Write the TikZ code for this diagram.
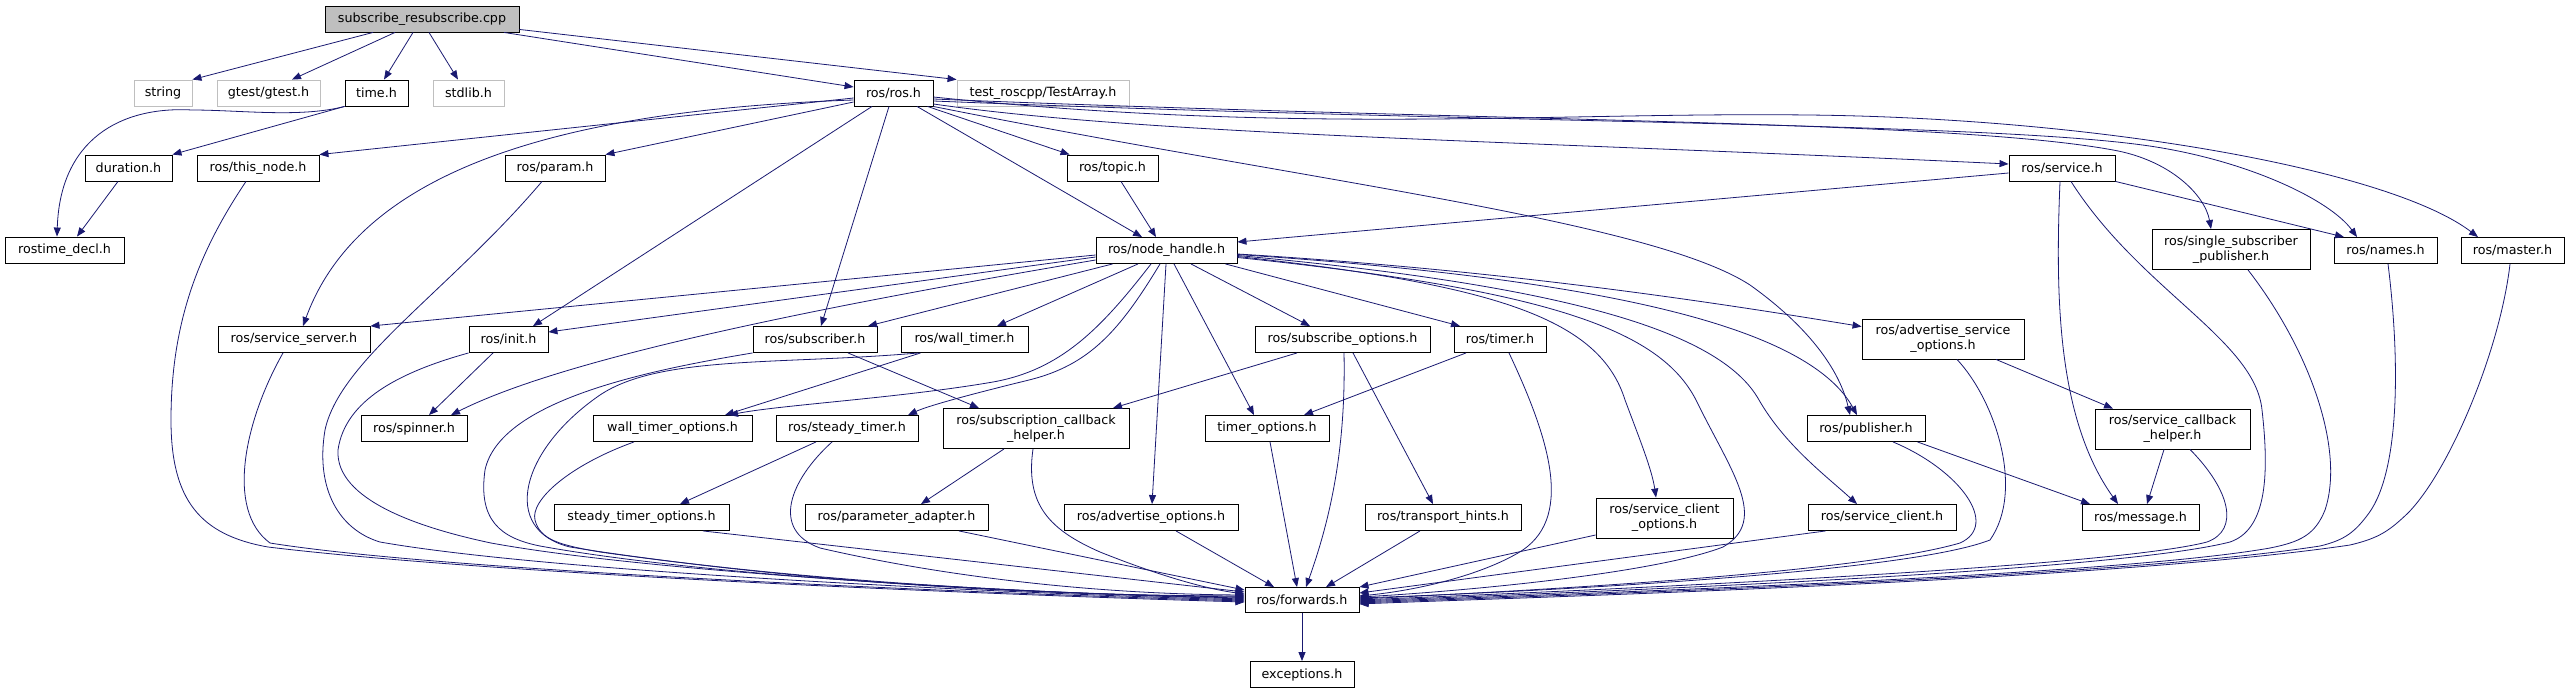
\documentclass[tikz,border=0pt]{standalone}
\usepackage{fontspec}
\setmainfont{DejaVu Sans}
\usetikzlibrary{arrows.meta}
\definecolor{edgeblue}{HTML}{191970}
\definecolor{extgray}{HTML}{BFBFBF}
\begin{document}
\begin{tikzpicture}
[x=1pt,y=-1pt,
 filenode/.style={shape=rectangle,draw=black,fill=white,line width=0.9pt,inner sep=0pt,
   minimum height=26pt,align=center,font=\fontsize{12.7}{15}\selectfont},
 extnode/.style={filenode,draw=extgray},
 mainnode/.style={filenode,fill=extgray},
 twoline/.style={minimum height=40pt},
 dep/.style={draw=edgeblue,line width=0.8pt,-{Triangle[length=9pt,width=7pt]}}]
\useasboundingbox (0,0) rectangle (2569,693);
% files, row by row
\node (main) at (422,19) [mainnode,minimum width=194pt] {subscribe\_resubscribe.cpp};
\node (string) at (163,93) [extnode,minimum width=58pt] {string};
\node (gtest) at (268.5,93) [extnode,minimum width=103pt] {gtest/gtest.h};
\node (timeh) at (376.5,93) [filenode,minimum width=63pt] {time.h};
\node (stdlib) at (468.5,93) [extnode,minimum width=71pt] {stdlib.h};
\node (ros) at (893.5,93) [filenode,minimum width=79pt] {ros/ros.h};
\node (testarray) at (1043,93) [extnode,minimum width=172pt] {test\_roscpp/TestArray.h};
\node (duration) at (128.5,168) [filenode,minimum width=87pt] {duration.h};
\node (thisnode) at (258,168) [filenode,minimum width=122pt] {ros/this\_node.h};
\node (param) at (555,168) [filenode,minimum width=100pt] {ros/param.h};
\node (topic) at (1112.5,168) [filenode,minimum width=91pt] {ros/topic.h};
\node (service) at (2062,168) [filenode,minimum width=106pt] {ros/service.h};
\node (rostime) at (64.5,250) [filenode,minimum width=119pt] {rostime\_decl.h};
\node (nodehandle) at (1166.5,250.5) [filenode,minimum width=141pt] {ros/node\_handle.h};
\node (singlesub) at (2231,249.5) [filenode,twoline,minimum width=158pt] {ros/single\_subscriber\\\_publisher.h};
\node (names) at (2385.5,250.5) [filenode,minimum width=103pt] {ros/names.h};
\node (master) at (2512.5,250.5) [filenode,minimum width=103pt] {ros/master.h};
\node (srvserver) at (294,339.5) [filenode,minimum width=152pt] {ros/service\_server.h};
\node (init) at (508.5,339.5) [filenode,minimum width=79pt] {ros/init.h};
\node (subscriber) at (815,339.5) [filenode,minimum width=124pt] {ros/subscriber.h};
\node (walltimer) at (964.5,339.5) [filenode,minimum width=127pt] {ros/wall\_timer.h};
\node (subopts) at (1342.5,339.5) [filenode,minimum width=175pt] {ros/subscribe\_options.h};
\node (timer) at (1500,339.5) [filenode,minimum width=92pt] {ros/timer.h};
\node (advsrvopts) at (1943,339) [filenode,twoline,minimum width=162pt] {ros/advertise\_service\\\_options.h};
\node (spinner) at (414,428.5) [filenode,minimum width=106pt] {ros/spinner.h};
\node (walltimeropts) at (672.5,428.5) [filenode,minimum width=159pt] {wall\_timer\_options.h};
\node (steadytimer) at (847,428.5) [filenode,minimum width=142pt] {ros/steady\_timer.h};
\node (subcbhelper) at (1036,428.5) [filenode,twoline,minimum width=186pt] {ros/subscription\_callback\\\_helper.h};
\node (timeropts) at (1267,428.5) [filenode,minimum width=124pt] {timer\_options.h};
\node (publisher) at (1866,428.5) [filenode,minimum width=118pt] {ros/publisher.h};
\node (srvcbhelper) at (2172.5,429) [filenode,twoline,minimum width=155pt] {ros/service\_callback\\\_helper.h};
\node (steadytimeropts) at (641.5,517.5) [filenode,minimum width=175pt] {steady\_timer\_options.h};
\node (paramadapter) at (896.5,517.5) [filenode,minimum width=183pt] {ros/parameter\_adapter.h};
\node (advopts) at (1151,517.5) [filenode,minimum width=174pt] {ros/advertise\_options.h};
\node (transport) at (1443,517.5) [filenode,minimum width=156pt] {ros/transport\_hints.h};
\node (srvclientopts) at (1664.5,518) [filenode,twoline,minimum width=137pt] {ros/service\_client\\\_options.h};
\node (srvclient) at (1882,517.5) [filenode,minimum width=148pt] {ros/service\_client.h};
\node (message) at (2140.5,517.5) [filenode,minimum width=117pt] {ros/message.h};
\node (forwards) at (1302,600) [filenode,minimum height=25pt,minimum width=114pt] {ros/forwards.h};
\node (exceptions) at (1302,674.5) [filenode,minimum width=104pt] {exceptions.h};
% straight includes
\path
([xshift=-49pt]main.south) edge[dep] (string.north east)
([xshift=-27pt]main.south) edge[dep] ([xshift=23.5pt]gtest.north)
([xshift=-9pt]main.south) edge[dep] ([xshift=7.5pt]timeh.north)
([xshift=7pt]main.south) edge[dep] ([xshift=-10.5pt]stdlib.north)
([xshift=82pt]main.south) edge[dep] ([yshift=6pt]ros.west)
([yshift=3pt]main.south east) edge[dep] (testarray.north west)
(timeh.south west) edge[dep] (duration.north east)
([xshift=-10.5pt]duration.south) edge[dep] ([xshift=12.5pt]rostime.north)
([yshift=-5pt]ros.west) edge[dep] (thisnode.north east)
([yshift=-9pt]ros.west) edge[dep] (param.north east)
([xshift=-21.5pt]ros.south) edge[dep] ([xshift=24.5pt]init.north)
([xshift=-4.5pt]ros.south) edge[dep] ([xshift=6pt]subscriber.north)
([xshift=23.5pt]ros.south) edge[dep] ([xshift=-24.5pt]nodehandle.north)
([xshift=-6pt]ros.south east) edge[dep] ([xshift=3pt]topic.north west)
([xshift=8.5pt]topic.south) edge[dep] ([xshift=-10.5pt]nodehandle.north)
([yshift=-5pt]service.west) edge[dep] ([yshift=8.5pt]nodehandle.east)
(service.south east) edge[dep] ([xshift=-41.5pt]names.north)
([yshift=-4.5pt]nodehandle.west) edge[dep] (srvserver.north east)
([yshift=-6.5pt]nodehandle.west) edge[dep] ([yshift=7.5pt]init.east)
([xshift=17pt]nodehandle.south west) edge[dep] ([xshift=53pt]subscriber.north)
([xshift=-28.5pt]nodehandle.south) edge[dep] ([xshift=32.5pt]walltimer.north)
([xshift=-0.5pt]nodehandle.south) edge[dep] ([xshift=1pt]advopts.north)
([xshift=7.5pt]nodehandle.south) edge[dep] ([xshift=-13pt]timeropts.north)
([xshift=24.5pt]nodehandle.south) edge[dep] ([xshift=-32.5pt]subopts.north)
([xshift=-12pt]nodehandle.south east) edge[dep] ([xshift=-40pt]timer.north)
([xshift=-15.5pt]init.south) edge[dep] ([xshift=15pt]spinner.north)
([xshift=33pt]subscriber.south) edge[dep] ([xshift=-57pt]subcbhelper.north)
([xshift=20pt]walltimer.south west) edge[dep] ([xshift=52.5pt]walltimeropts.north)
([xshift=-45.5pt]subopts.south) edge[dep] ([xshift=77pt]subcbhelper.north)
([xshift=10.5pt]subopts.south) edge[dep] ([xshift=-10pt]transport.north)
([xshift=-34pt]timer.south) edge[dep] ([xshift=37pt]timeropts.north)
([xshift=53pt]advsrvopts.south) edge[dep] ([xshift=-59.5pt]srvcbhelper.north)
([xshift=-31pt]steadytimer.south) edge[dep] ([xshift=38.5pt]steadytimeropts.north)
([xshift=-32pt]subcbhelper.south) edge[dep] ([xshift=24.5pt]paramadapter.north)
([xshift=-8pt]publisher.south east) edge[dep] ([xshift=-50.5pt]message.north)
([xshift=-8.5pt]srvcbhelper.south) edge[dep] ([xshift=6.5pt]message.north)
([xshift=3pt]timeropts.south) edge[dep] ([xshift=-5pt]forwards.north)
([xshift=61.5pt]steadytimeropts.south) edge[dep] ([yshift=8pt]forwards.west)
([xshift=62.5pt]paramadapter.south) edge[dep] ([yshift=10pt]forwards.west)
([xshift=25pt]advopts.south) edge[dep] ([xshift=-28pt]forwards.north)
([xshift=-23pt]transport.south) edge[dep] ([xshift=24pt]forwards.north)
([yshift=-17pt]srvclientopts.west) edge[dep] (forwards.north east)
([xshift=18pt]srvclient.south west) edge[dep] ([yshift=7pt]forwards.east)
(forwards.south) edge[dep] (exceptions.north);
% curved includes from the top rows
\draw[dep] (timeh.south west) .. controls (300,118) and (240,110) .. (192,110)
  .. controls (120,106) and (60,140) .. ([xshift=-7.5pt]rostime.north);
\draw[dep] ([yshift=-7pt]ros.west) .. controls (560,110) and (360,170) .. ([xshift=9pt]srvserver.north);
\draw[dep] ([yshift=-11pt]ros.east) .. controls (1150,135) and (1500,140) .. ([yshift=4pt]service.west);
\draw[dep] ([yshift=-6pt]ros.east) .. controls (1500,122) and (1950,120) .. (2113,150)
  .. controls (2170,160) and (2205,195) .. ([xshift=-20pt]singlesub.north);
\draw[dep] ([yshift=-8pt]ros.east) .. controls (1500,124) and (2000,122) .. (2156,147)
  .. controls (2250,162) and (2330,200) .. ([xshift=-28.5pt]names.north);
\draw[dep] ([yshift=-4pt]ros.east) .. controls (1300,135) and (1550,112) .. (1808,115)
  .. controls (2100,118) and (2390,170) .. ([xshift=-34.5pt]master.north);
\draw[dep] (ros.south east) .. controls (1300,180) and (1650,220) .. (1750,285)
  .. controls (1820,335) and (1842,380) .. ([xshift=-16pt]publisher.north);
\draw[dep] ([xshift=-2pt]service.south) .. controls (2055,300) and (2058,420) .. ([xshift=-22.5pt]message.north);
% curved includes out of ros/node_handle.h
\draw[dep] ([yshift=-9.5pt]nodehandle.west) .. controls (800,310) and (560,360) .. ([xshift=37pt]spinner.north);
\draw[dep] ([xshift=-15.5pt]nodehandle.south) .. controls (1100,330) and (1060,370) .. (993,382)
  .. controls (900,398) and (780,405) .. ([xshift=56.5pt]walltimeropts.north);
\draw[dep] ([xshift=-6.5pt]nodehandle.south) .. controls (1120,330) and (1090,365) .. (1029,380)
  .. controls (980,392) and (930,405) .. ([xshift=61pt]steadytimer.north);
\draw[dep] ([yshift=-3.5pt]nodehandle.east) .. controls (1500,270) and (1700,300) .. ([yshift=-8pt]advsrvopts.north west);
\draw[dep] ([yshift=-6pt]nodehandle.east) .. controls (1500,285) and (1600,320) .. (1625,400)
  .. controls (1640,440) and (1652,470) .. ([xshift=-8.5pt]srvclientopts.north);
\draw[dep] ([yshift=-5pt]nodehandle.east) .. controls (1560,285) and (1720,330) .. (1759,400)
  .. controls (1785,445) and (1825,475) .. ([xshift=-25pt]srvclient.north);
\draw[dep] ([yshift=-4pt]nodehandle.east) .. controls (1620,280) and (1810,330) .. ([xshift=-9pt]publisher.north);
% into ros/forwards.h from the left
\draw[dep] ([xshift=-12pt]thisnode.south) .. controls (200,250) and (171,320) .. (171,420)
  .. controls (171,500) and (200,535) .. (268,547) .. controls (500,575) and (1000,595) .. ([yshift=-2pt]forwards.west);
\draw[dep] ([xshift=-11pt]srvserver.south) .. controls (245,420) and (225,510) .. (270,543)
  .. controls (450,572) and (1000,594) .. ([yshift=-1pt]forwards.west);
\draw[dep] ([xshift=-13pt]param.south) .. controls (450,290) and (340,360) .. (325,430)
  .. controls (315,490) and (340,530) .. (380,542) .. controls (550,572) and (1000,593) .. (forwards.west);
\draw[dep] (init.south west) .. controls (400,372) and (345,400) .. (338,450)
  .. controls (335,500) and (420,528) .. (491,543) .. controls (650,572) and (1000,592) .. ([yshift=1pt]forwards.west);
\draw[dep] (subscriber.south west) .. controls (650,370) and (500,400) .. (485,470)
  .. controls (478,520) and (500,538) .. (540,546) .. controls (700,575) and (1000,593) .. ([yshift=2pt]forwards.west);
\draw[dep] ([xshift=18pt]walltimer.south west) .. controls (780,365) and (660,355) .. (600,395)
  .. controls (520,450) and (500,530) .. (570,547) .. controls (750,576) and (1000,594) .. ([yshift=3pt]forwards.west);
\draw[dep] ([xshift=-38.5pt]walltimeropts.south) .. controls (570,465) and (530,500) .. (535,520)
  .. controls (540,540) and (560,545) .. (600,552) .. controls (800,580) and (1000,595) .. ([yshift=4pt]forwards.west);
\draw[dep] ([xshift=-15pt]steadytimer.south) .. controls (790,480) and (770,530) .. (820,548)
  .. controls (950,578) and (1100,594) .. ([yshift=5pt]forwards.west);
\draw[dep] ([xshift=-3pt]subcbhelper.south) .. controls (1025,505) and (1050,530) .. (1100,552)
  .. controls (1150,572) and (1200,588) .. ([yshift=6pt]forwards.west);
\draw[dep] ([xshift=1.5pt]subopts.south) .. controls (1346,450) and (1330,520) .. ([xshift=4pt]forwards.north);
% into ros/forwards.h from the right
\draw[dep] ([xshift=9pt]timer.south) .. controls (1550,440) and (1575,520) .. (1518,553)
  .. controls (1480,575) and (1420,590) .. ([yshift=4pt]forwards.east);
\draw[dep] ([yshift=-7pt]nodehandle.east) .. controls (1550,290) and (1660,330) .. (1696,400)
  .. controls (1730,470) and (1770,520) .. (1723,547) .. controls (1650,575) and (1450,592) .. ([yshift=3pt]forwards.east);
\draw[dep] ([xshift=14pt]advsrvopts.south) .. controls (1995,400) and (2025,490) .. (1990,540)
  .. controls (1900,575) and (1500,593) .. ([yshift=2pt]forwards.east);
\draw[dep] ([xshift=27pt]publisher.south) .. controls (1960,470) and (2000,525) .. (1960,543)
  .. controls (1850,575) and (1500,592) .. ([yshift=1pt]forwards.east);
\draw[dep] ([xshift=17.5pt]srvcbhelper.south) .. controls (2230,490) and (2240,530) .. (2207,542)
  .. controls (2100,570) and (1500,594) .. (forwards.east);
\draw[dep] ([xshift=9pt]service.south) .. controls (2140,290) and (2255,340) .. (2262,410)
  .. controls (2270,480) and (2265,530) .. (2230,542) .. controls (2100,575) and (1500,595) .. ([yshift=-1pt]forwards.east);
\draw[dep] ([xshift=17pt]singlesub.south) .. controls (2310,350) and (2345,450) .. (2325,510)
  .. controls (2315,535) and (2300,542) .. (2270,548) .. controls (2100,578) and (1500,596) .. ([yshift=-2pt]forwards.east);
\draw[dep] ([xshift=2.5pt]names.south) .. controls (2400,360) and (2400,470) .. (2369,513)
  .. controls (2355,532) and (2345,540) .. (2320,546) .. controls (2100,580) and (1500,597) .. ([yshift=-3pt]forwards.east);
\draw[dep] ([xshift=-2.5pt]master.south) .. controls (2500,350) and (2450,470) .. (2408,513)
  .. controls (2390,530) and (2380,538) .. (2350,545) .. controls (2100,582) and (1500,598) .. ([yshift=-4pt]forwards.east);
\end{tikzpicture}
\end{document}
